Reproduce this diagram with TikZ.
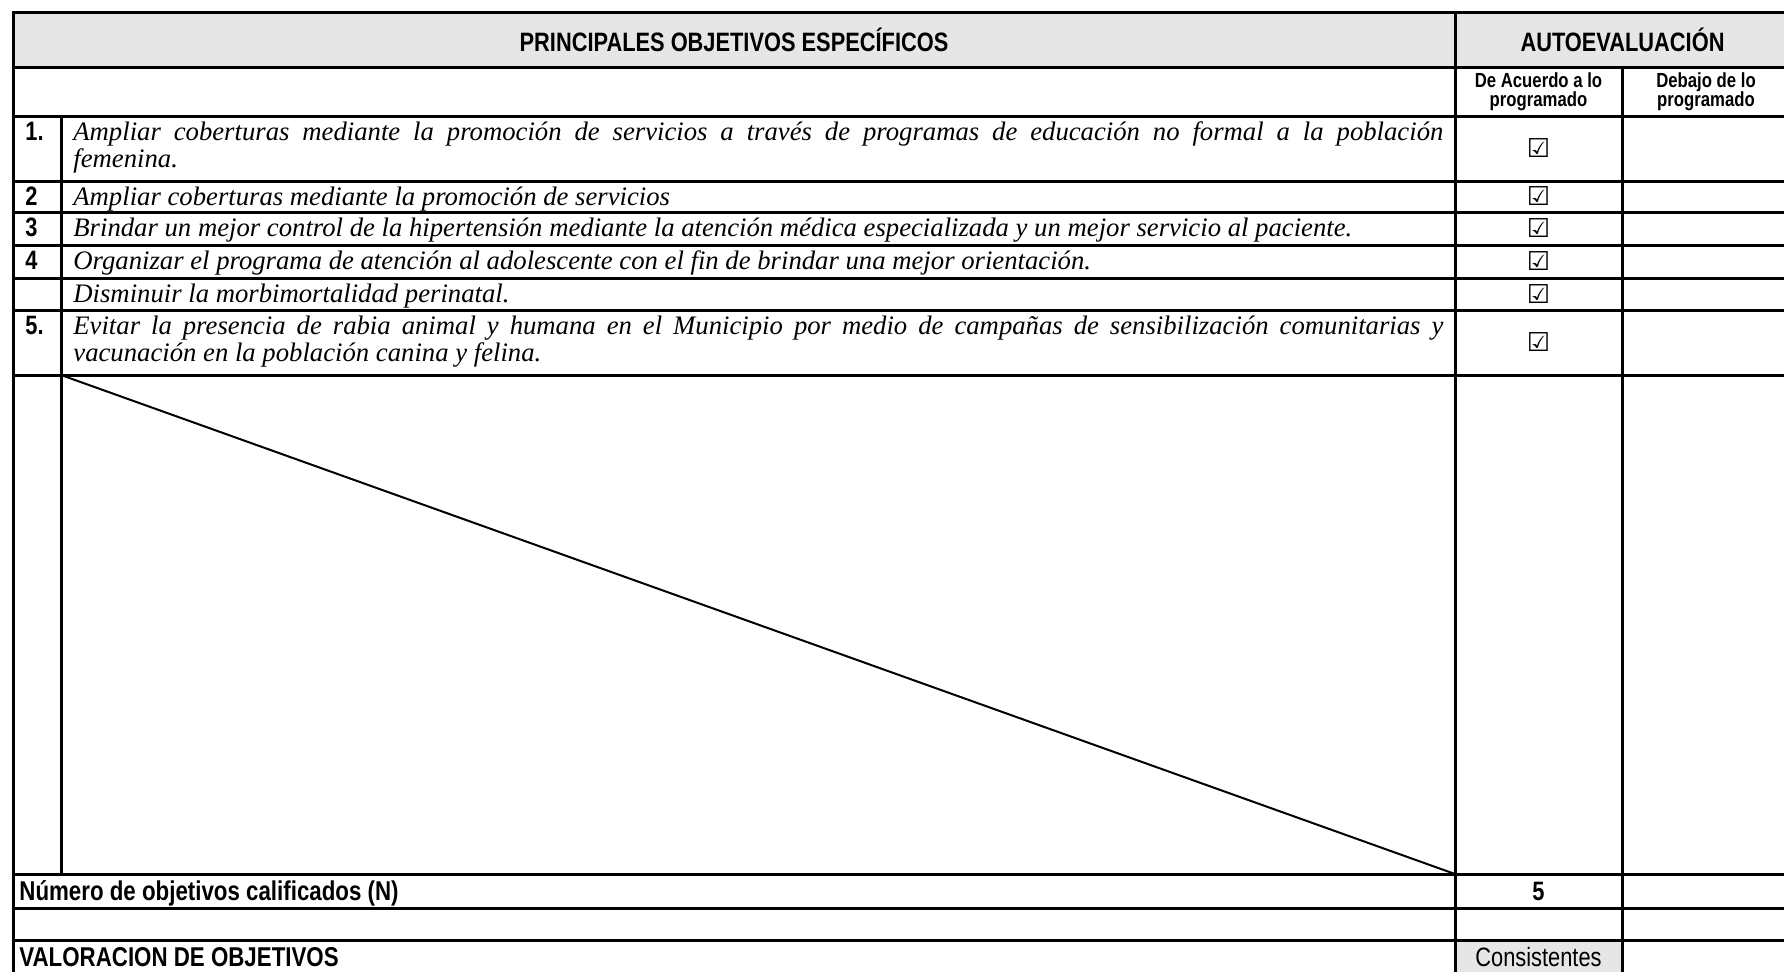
\documentclass[tikz,border=0pt]{standalone}
\usepackage{fontspec}
\setmainfont{Liberation Serif}
\newfontfamily\narrowfont[FakeStretch=0.82]{Liberation Sans}
\newfontfamily\symfont{DejaVu Sans}
\definecolor{headgray}{RGB}{230,230,230}
\tikzset{
  rule/.style={line width=1.5pt, line cap=rect},
  headtext/.style={inner sep=0pt, font=\narrowfont\bfseries\fontsize{13.3}{13.5}\selectfont},
  bigtext/.style={inner sep=0pt, font=\narrowfont\bfseries\fontsize{13.6}{14}\selectfont},
  subhead/.style={inner sep=0pt, align=center, font=\narrowfont\bfseries\fontsize{10.2}{9.7}\selectfont},
  plaintext/.style={inner sep=0pt, font=\narrowfont\fontsize{13.3}{13.5}\selectfont},
  objtext/.style={inner sep=0pt, anchor=base west, text width=685pt, align=justify,
    font=\itshape\fontsize{13.35}{13.5}\selectfont},
  checkmark/.style={inner sep=0pt, font=\symfont\bfseries\fontsize{13}{13}\selectfont}
}
% column edges
\def\xL{13}
\def\xN{61}
\def\xA{1455}
\def\xB{1622}
\def\xR{1790}

\begin{document}
\begin{tikzpicture}[x=0.5pt, y=-0.5pt]
    \useasboundingbox (0,0) rectangle (1784,971);
    \clip (0,0) rectangle (1784,971);

    % Shaded cells
    \fill[headgray] (\xL,12) rectangle (\xR,67);
    \fill[headgray] (\xA,940) rectangle (\xB,1000);

    % Rules
    \foreach \y in {12,67,116,181,212,245,278,310,375,874,908,940}{
        \draw[rule] (\xL,\y) -- (\xR,\y);
    }
    \draw[rule] (\xL,12) -- (\xL,1000);
    \draw[rule] (\xN,116) -- (\xN,874);
    \draw[rule] (\xA,12) -- (\xA,1000);
    \draw[rule] (\xB,67) -- (\xB,1000);
    \draw[line width=1pt] (\xN,375) -- (\xA,874);

    % Headings
    \node[headtext] (princ) at ({(\xL+\xA)/2},40) {PRINCIPALES OBJETIVOS ESPECÍFICOS};
    \node[headtext] (autoev) at ({(\xA+\xR)/2},40) {AUTOEVALUACIÓN};
    \node[subhead] (acuerdo) at ({(\xA+\xB)/2},92) {De Acuerdo a lo\\programado};
    \node[subhead] (debajo) at ({(\xB+\xR)/2},92) {Debajo de lo\\programado};

    % Objectives
    \foreach \top/\bot/\num/\txt in {
        116/181/1./{Ampliar coberturas mediante la promoción de servicios a través de programas de educación no formal a la población\linebreak femenina.},
        181/212/2/{Ampliar coberturas mediante la promoción de servicios},
        212/245/3/{Brindar un mejor control de la hipertensión mediante la atención médica especializada y un mejor servicio al paciente.},
        245/278/4/{Organizar el programa de atención al adolescente con el fin de brindar una mejor orientación.},
        278/310//{Disminuir la morbimortalidad perinatal.},
        310/375/5./{Evitar la presencia de rabia animal y humana en el Municipio por medio de campañas de sensibilización comunitarias y\linebreak vacunación en la población canina y felina.}}{
        \node[headtext, anchor=base west] (num\top) at (25,\top+24) {\num};
        \node[objtext] (obj\top) at (73,\top+24) {\txt};
        \node[checkmark] (chk\top) at ({(\xA+\xB)/2},{(\top+\bot)/2}) {☑};
    }

    % Totals
    \node[bigtext, anchor=base west] (numobj) at (19,900) {Número de objetivos calificados (N)};
    \node[headtext, anchor=base] (total) at ({(\xA+\xB)/2},900) {5};
    \node[bigtext, anchor=base west] (valor) at (19,966) {VALORACION DE OBJETIVOS};
    \node[plaintext, anchor=base] (consist) at ({(\xA+\xB)/2},966) {Consistentes};

\end{tikzpicture}
\end{document}
